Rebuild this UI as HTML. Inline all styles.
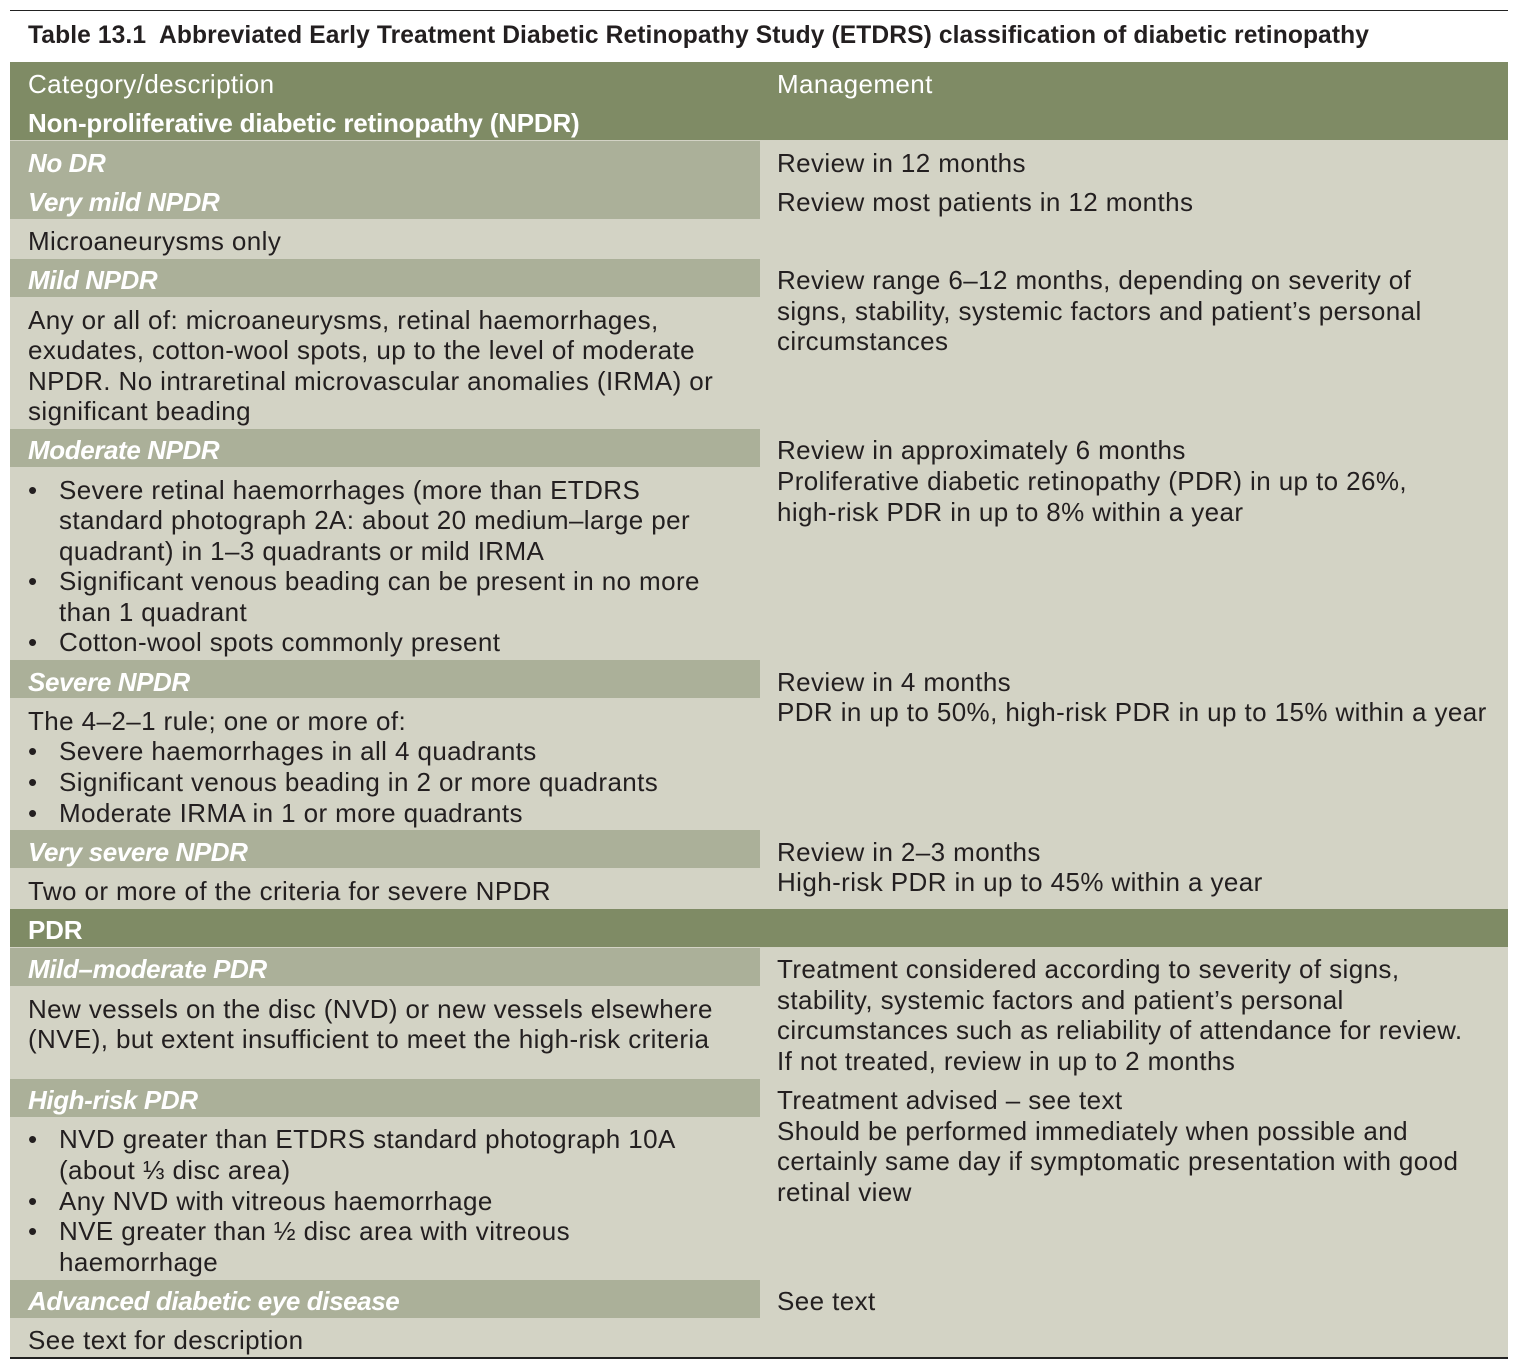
<!DOCTYPE html>
<html><head><meta charset="utf-8"><style>
html,body{margin:0;padding:0;background:#fff;width:1522px;height:1368px;overflow:hidden}
body{position:relative;font-family:"Liberation Sans",sans-serif;color:#231f20}
.b{position:absolute}
.t{position:absolute;font-size:26px;line-height:30px;white-space:nowrap;letter-spacing:0.4px}
.w{color:#fff}
.bi{font-weight:bold;font-style:italic;color:#fff;letter-spacing:-0.4px}
.bd{font-weight:bold;color:#fff;letter-spacing:-0.2px}
</style></head><body>
<div class="b" style="left:10px;top:10px;width:1498px;height:1px;background:#222"></div>
<div class="t" style="left:28px;top:21px;font-size:24.6px;font-weight:bold;letter-spacing:0.1px">Table 13.1&nbsp; Abbreviated Early Treatment Diabetic Retinopathy Study (ETDRS) classification of diabetic retinopathy</div>
<div class="b" style="left:10px;top:62px;width:1498px;height:1295px;background:#d3d3c5"></div>
<div class="b" style="left:10px;top:1357px;width:1498px;height:2px;background:#222"></div>
<div id="root"></div>
<script>
const bandTops=[62,141,259,429,660,830,909,948,1079,1280];
const bandHeights=[78,78,38,38,38,38,38,38,38,38];
const bandFull=[1,0,0,0,0,0,1,0,0,0];
const bandNames=['header-band','no-dr-band','mild-npdr-band','moderate-npdr-band','severe-npdr-band','very-severe-npdr-band','pdr-band','mild-moderate-pdr-band','high-risk-pdr-band','advanced-band'];
const leftLines=[
[84,'Category/description','w',28],[123,'Non-proliferative diabetic retinopathy (NPDR)','bd',28],
[163,'No DR','bi',28],[202,'Very mild NPDR','bi',28],[241,'Microaneurysms only','',28],
[280,'Mild NPDR','bi',28],
[320,'Any or all of: microaneurysms, retinal haemorrhages,','',28],[350,'exudates, cotton-wool spots, up to the level of moderate','',28],[381,'NPDR. No intraretinal microvascular anomalies (IRMA) or','',28],[411,'significant beading','',28],
[450,'Moderate NPDR','bi',28],
[490,'Severe retinal haemorrhages (more than ETDRS','',59],[520,'standard photograph 2A: about 20 medium–large per','',59],[551,'quadrant) in 1–3 quadrants or mild IRMA','',59],[581,'Significant venous beading can be present in no more','',59],[612,'than 1 quadrant','',59],[642,'Cotton-wool spots commonly present','',59],
[682,'Severe NPDR','bi',28],
[721,'The 4–2–1 rule; one or more of:','',28],[751,'Severe haemorrhages in all 4 quadrants','',59],[782,'Significant venous beading in 2 or more quadrants','',59],[813,'Moderate IRMA in 1 or more quadrants','',59],
[852,'Very severe NPDR','bi',28],[891,'Two or more of the criteria for severe NPDR','',28],
[930,'PDR','bd',28],
[969,'Mild–moderate PDR','bi',28],[1009,'New vessels on the disc (NVD) or new vessels elsewhere','',28],[1039,'(NVE), but extent insufficient to meet the high-risk criteria','',28],
[1100,'High-risk PDR','bi',28],
[1139,'NVD greater than ETDRS standard photograph 10A','',59],[1170,'(about ⅓ disc area)','',59],[1201,'Any NVD with vitreous haemorrhage','',59],[1231,'NVE greater than ½ disc area with vitreous','',59],[1262,'haemorrhage','',59],
[1301,'Advanced diabetic eye disease','bi',28],[1340,'See text for description','',28]
];
const bulletYs=[490,581,642,751,782,813,1139,1201,1231];
const rightLines=[
[84,'Management','w'],[163,'Review in 12 months',''],[202,'Review most patients in 12 months',''],
[280,'Review range 6–12 months, depending on severity of',''],[311,'signs, stability, systemic factors and patient’s personal',''],[341,'circumstances',''],
[450,'Review in approximately 6 months',''],[481,'Proliferative diabetic retinopathy (PDR) in up to 26%,',''],[512,'high-risk PDR in up to 8% within a year',''],
[682,'Review in 4 months',''],[712,'PDR in up to 50%, high-risk PDR in up to 15% within a year',''],
[852,'Review in 2–3 months',''],[882,'High-risk PDR in up to 45% within a year',''],
[969,'Treatment considered according to severity of signs,',''],[1000,'stability, systemic factors and patient’s personal',''],[1030,'circumstances such as reliability of attendance for review.',''],[1061,'If not treated, review in up to 2 months',''],
[1100,'Treatment advised – see text',''],[1131,'Should be performed immediately when possible and',''],[1161,'certainly same day if symptomatic presentation with good',''],[1192,'retinal view',''],
[1301,'See text','']
];
const root=document.getElementById('root');
bandTops.forEach((y,i)=>{
 const d=document.createElement('div');
 d.className='b';
 d.style.cssText=`left:10px;top:${y}px;height:${bandHeights[i]}px;width:${bandFull[i]?1498:750}px;background:${bandFull[i]?'#7f8b65':'#abb099'}`;
 
 
 root.appendChild(d);
});
leftLines.forEach(l=>{
 const d=document.createElement('div');
 d.className='t '+l[2];
 d.style.left=l[3]+'px';d.style.top=(l[0]-15)+'px';
 d.textContent=l[1];
 
 
 root.appendChild(d);
});
bulletYs.forEach(y=>{
 const d=document.createElement('div');
 d.className='t';
 d.style.left='28px';d.style.top=(y-15)+'px';
 d.textContent='•';
 
 
 root.appendChild(d);
});
rightLines.forEach(l=>{
 const d=document.createElement('div');
 d.className='t '+l[2];
 d.style.left='777px';d.style.top=(l[0]-15)+'px';
 d.textContent=l[1];
 
 
 root.appendChild(d);
});
</script>
</body></html>
